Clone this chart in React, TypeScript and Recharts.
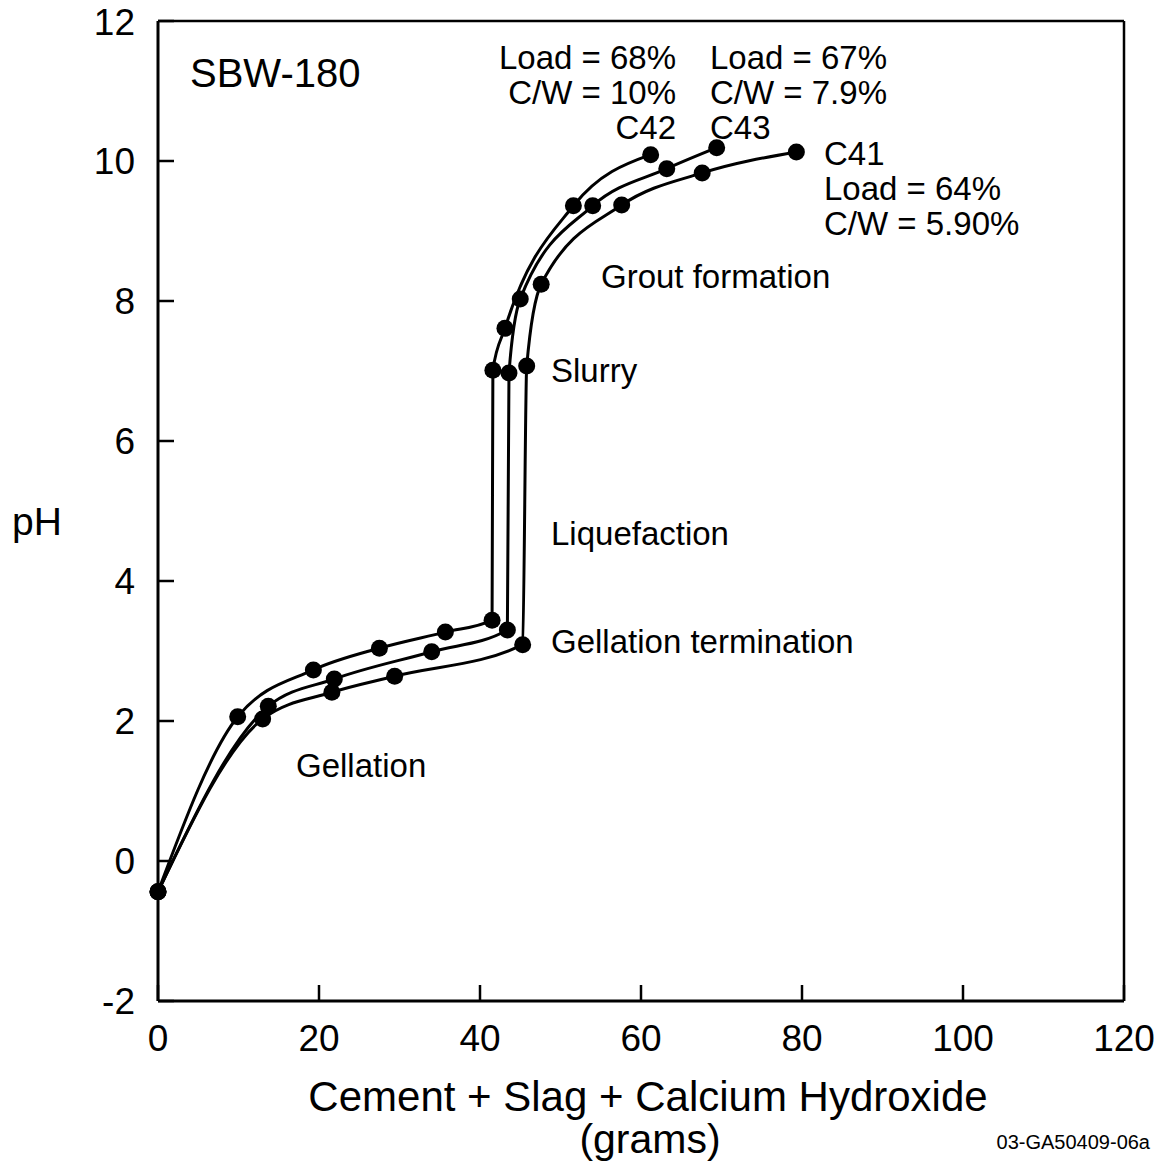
import { LineChart, Line, XAxis, YAxis, ReferenceLine } from "recharts";

// grams of cement + slag + calcium hydroxide vs pH, three runs
const c42Grams = [0, 9.9, 19.3, 27.5, 35.7, 41.5, 41.6, 43.1, 51.6, 61.2];
const c42Ph = [-0.44, 2.06, 2.73, 3.04, 3.27, 3.44, 7.01, 7.61, 9.36, 10.09];

const c43Grams = [0, 13.7, 21.9, 34.0, 43.4, 43.6, 45.0, 54.0, 63.2, 69.4];
const c43Ph = [-0.44, 2.21, 2.6, 2.99, 3.3, 6.97, 8.03, 9.36, 9.89, 10.19];

const c41Grams = [0, 13.0, 21.6, 29.4, 45.3, 45.8, 47.6, 57.6, 67.6, 79.3];
const c41Ph = [-0.44, 2.03, 2.41, 2.64, 3.09, 7.07, 8.24, 9.37, 9.83, 10.13];

const xTicks = [0, 20, 40, 60, 80, 100, 120];
const yTicks = [-2, 0, 2, 4, 6, 8, 10, 12];

const toPoints = (g: number[], p: number[]) => g.map((v, i) => ({ g: v, ph: p[i] }));

const c42 = toPoints(c42Grams, c42Ph);
const c43 = toPoints(c43Grams, c43Ph);
const c41 = toPoints(c41Grams, c41Ph);

const FONT = '"Liberation Sans", Arial, sans-serif';

const notes: { t: string; x: number; y: number; a?: "start" | "end" | "middle"; s?: number }[] = [
  { t: "SBW-180", x: 190, y: 87, s: 40 },
  { t: "Load = 68%", x: 676, y: 69, a: "end" },
  { t: "C/W = 10%", x: 676, y: 104, a: "end" },
  { t: "C42", x: 676, y: 139, a: "end" },
  { t: "Load = 67%", x: 710, y: 69 },
  { t: "C/W = 7.9%", x: 710, y: 104 },
  { t: "C43", x: 710, y: 139 },
  { t: "C41", x: 824, y: 165 },
  { t: "Load = 64%", x: 824, y: 200 },
  { t: "C/W = 5.90%", x: 824, y: 235 },
  { t: "Grout formation", x: 601, y: 288 },
  { t: "Slurry", x: 551, y: 382 },
  { t: "Liquefaction", x: 551, y: 545 },
  { t: "Gellation termination", x: 551, y: 653 },
  { t: "Gellation", x: 296, y: 777 },
  { t: "pH", x: 12, y: 535, s: 39 },
  { t: "Cement + Slag + Calcium Hydroxide", x: 648, y: 1111, a: "middle", s: 42 },
  { t: "(grams)", x: 650, y: 1153, a: "middle", s: 41 },
  { t: "03-GA50409-06a", x: 1150, y: 1149, a: "end", s: 20 },
];

const dot = { r: 8.5, fill: "#000", stroke: "none" };

export default function App() {
  return (
    <div style={{ position: "absolute", left: 0, top: 0, width: 1157, height: 1164, background: "#fff" }}>
      <LineChart
        width={1157}
        height={1164}
        margin={{ top: 21, right: 33, bottom: 0, left: 0 }}
        style={{ fontFamily: FONT }}
      >
        <XAxis
          dataKey="g"
          type="number"
          domain={[0, 120]}
          ticks={xTicks}
          height={163}
          tickSize={-16}
          tickMargin={40}
          tick={{ fill: "#000", fontSize: 37 }}
          axisLine={{ stroke: "#000", strokeWidth: 3 }}
          tickLine={{ stroke: "#000", strokeWidth: 2.5 }}
          allowDuplicatedCategory={false}
        />
        <YAxis
          type="number"
          domain={[-2, 12]}
          ticks={yTicks}
          width={158}
          tickSize={-16}
          tickMargin={39}
          tick={{ fill: "#000", fontSize: 37 }}
          axisLine={{ stroke: "#000", strokeWidth: 3 }}
          tickLine={{ stroke: "#000", strokeWidth: 2.5 }}
        />
        <ReferenceLine y={12} stroke="#000" strokeWidth={2.5} />
        <ReferenceLine x={120} stroke="#000" strokeWidth={2.5} />
        <Line data={c41} dataKey="ph" type="monotone" stroke="#000" strokeWidth={3} dot={dot} isAnimationActive={false} />
        <Line data={c43} dataKey="ph" type="monotone" stroke="#000" strokeWidth={3} dot={dot} isAnimationActive={false} />
        <Line data={c42} dataKey="ph" type="monotone" stroke="#000" strokeWidth={3} dot={dot} isAnimationActive={false} />
      </LineChart>
      <svg
        width={1157}
        height={1164}
        style={{ position: "absolute", left: 0, top: 0, pointerEvents: "none", fontFamily: FONT }}
      >
        {notes.map((n) => (
          <text key={n.t} x={n.x} y={n.y} textAnchor={n.a || "start"} fontSize={n.s || 33} fill="#000">
            {n.t}
          </text>
        ))}
      </svg>
    </div>
  );
}
